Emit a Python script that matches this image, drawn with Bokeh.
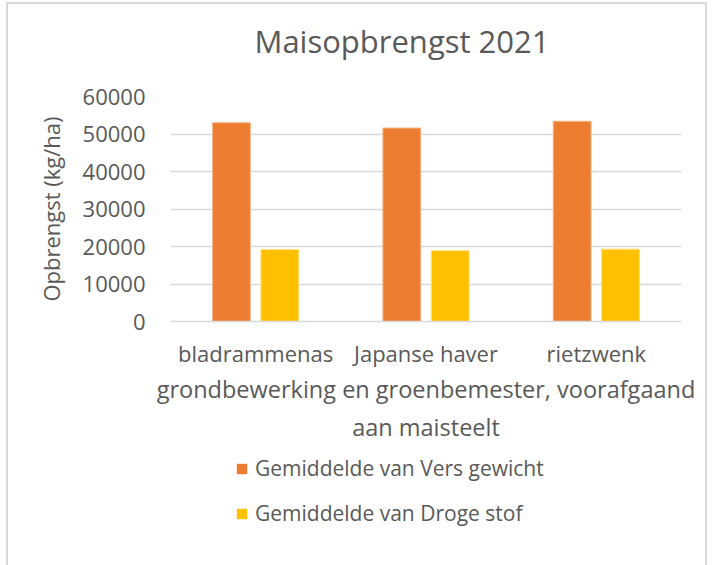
from bokeh.plotting import figure
from bokeh.layouts import column
from bokeh.models import (ColumnDataSource, Legend, LegendItem, Title, FactorRange,
                          Range1d, FixedTicker, NumeralTickFormatter)
from bokeh.transform import dodge
from bokeh.embed import file_html
from bokeh.resources import INLINE

# ---- data ----
categories = ["bladrammenas", "Japanse haver", "rietzwenk"]
vers_gewicht = [53000, 51600, 53400]
droge_stof = [19200, 18900, 19300]
series_names = ["Gemiddelde van Vers gewicht", "Gemiddelde van Droge stof"]
series_colors = ["#ED7D31", "#FFC000"]
y_ticks = [0, 10000, 20000, 30000, 40000, 50000, 60000]
chart_title = "Maisopbrengst 2021"
y_title = "Opbrengst (kg/ha)"
x_title = "grondbewerking en groenbemester, voorafgaand\naan maisteelt"

FONT = "Open Sans"
TXT = "#595959"
GRID = "#d9d9d9"

src = ColumnDataSource(dict(cat=categories, vers=vers_gewicht, droog=droge_stof))

# ---- title strip ----
p0 = figure(width=697, height=75, output_backend="svg", toolbar_location=None,
            x_range=Range1d(0, 1), y_range=Range1d(0, 1),
            x_axis_type=None, y_axis_type=None,
            min_border_left=162, min_border_right=24, min_border_top=0,
            min_border_bottom=0)
p0.outline_line_color = None
p0.grid.visible = False
p0.border_fill_color = "white"
p0.add_layout(Title(text=chart_title, align="left", offset=84, standoff=26,
                    text_font=FONT, text_font_size="31px",
                    text_font_style="normal", text_color=TXT), "above")

# ---- main chart ----
p = figure(x_range=FactorRange(*categories), y_range=Range1d(0, 60000),
           width=697, height=371, output_backend="svg", toolbar_location=None,
           min_border_left=162, min_border_right=24, min_border_top=17,
           min_border_bottom=129)
p.outline_line_color = None
p.background_fill_color = "white"
p.border_fill_color = "white"

r1 = p.vbar(x=dodge("cat", -0.142, range=p.x_range), top="vers", width=0.222,
            source=src, fill_color=series_colors[0], line_color="#f6b48a", line_width=1)
r2 = p.vbar(x=dodge("cat", 0.142, range=p.x_range), top="droog", width=0.222,
            source=src, fill_color=series_colors[1], line_color="#ffe07a", line_width=1)

p.xgrid.grid_line_color = None
p.ygrid.grid_line_color = GRID
p.ygrid.grid_line_width = 1.6
p.yaxis.ticker = FixedTicker(ticks=y_ticks)
p.yaxis.formatter = NumeralTickFormatter(format="0")
p.yaxis.axis_line_color = None
p.yaxis.major_tick_line_color = None
p.yaxis.minor_tick_line_color = None
p.yaxis.major_label_text_font = FONT
p.yaxis.major_label_text_font_size = "22px"
p.yaxis.major_label_text_color = TXT
p.yaxis.major_label_standoff = 19
p.yaxis.axis_label = y_title
p.yaxis.axis_label_text_font = FONT
p.yaxis.axis_label_text_font_size = "22px"
p.yaxis.axis_label_text_font_style = "normal"
p.yaxis.axis_label_text_color = TXT
p.yaxis.axis_label_standoff = 14

p.xaxis.axis_line_color = GRID
p.xaxis.axis_line_width = 1.6
p.xaxis.major_tick_line_color = None
p.xaxis.minor_tick_line_color = None
p.xaxis.major_label_text_font = FONT
p.xaxis.major_label_text_font_size = "22px"
p.xaxis.major_label_text_color = TXT
p.xaxis.major_label_standoff = 10
p.xaxis.axis_label = x_title
p.xaxis.axis_label_text_font = FONT
p.xaxis.axis_label_text_font_size = "23.5px"
p.xaxis.axis_label_text_font_style = "normal"
p.xaxis.axis_label_text_color = TXT
p.xaxis.axis_label_text_line_height = 1.2
p.xaxis.axis_label_standoff = 2

# ---- legend strip (zero-width proxy bars, outside its range: only swatches show) ----
p2 = figure(width=697, height=115, output_backend="svg", toolbar_location=None,
            x_range=FactorRange(*categories), y_range=Range1d(-2, -1),
            x_axis_type=None, y_axis_type=None,
            min_border_left=162, min_border_right=24, min_border_top=0,
            min_border_bottom=0)
p2.outline_line_color = None
p2.grid.visible = False
p2.border_fill_color = "white"
l1 = p2.vbar(x="cat", top="vers", width=0, source=src,
             fill_color=series_colors[0], line_color=None)
l2 = p2.vbar(x="cat", top="droog", width=0, source=src,
             fill_color=series_colors[1], line_color=None)
legend = Legend(items=[LegendItem(label=series_names[0], renderers=[l1]),
                       LegendItem(label=series_names[1], renderers=[l2])],
                location=(65, 38), orientation="vertical",
                glyph_width=13, glyph_height=13, label_standoff=7, spacing=17,
                label_height=24, padding=0, margin=0, border_line_color=None,
                background_fill_alpha=0, label_text_font=FONT,
                label_text_font_size="21px", label_text_color=TXT)
p2.add_layout(legend)

layout = column(p0, p, p2, spacing=0,
                styles={"margin-left": "6px", "margin-top": "2px",
                        "border-left": f"2px solid {GRID}",
                        "border-top": f"2px solid {GRID}",
                        "border-right": f"2px solid {GRID}"})

open("out.html", "w").write(file_html(layout, INLINE))
